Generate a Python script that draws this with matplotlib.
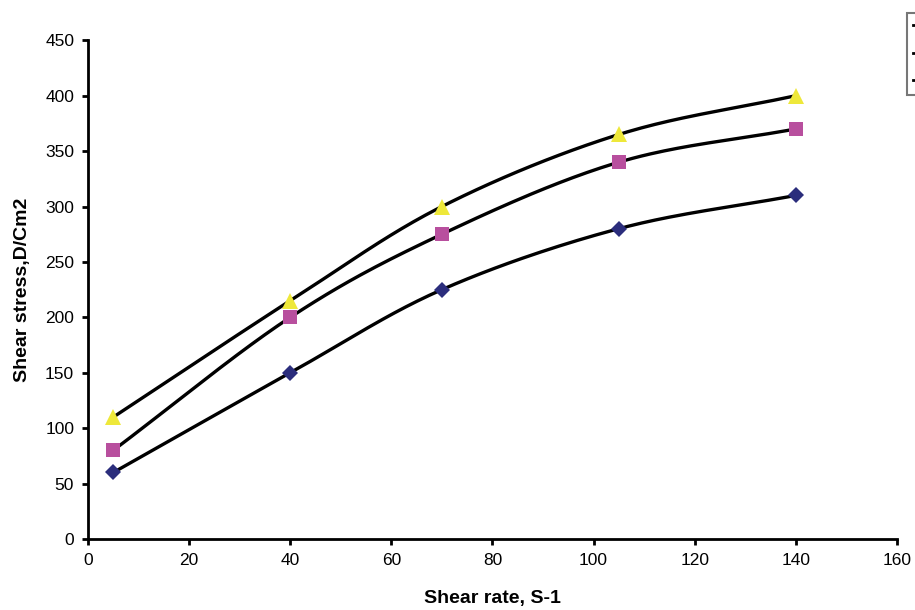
import numpy as np
import matplotlib.pyplot as plt
from matplotlib.lines import Line2D

plt.rcParams['font.family'] = ['Liberation Sans', 'DejaVu Sans']

shear_rate = [5, 40, 70, 105, 140]
stress_a = [60, 150, 225, 280, 310]
stress_b = [80, 200, 275, 340, 370]
stress_c = [110, 215, 300, 365, 400]
series_labels = ["Series 1", "Series 2", "Series 3"]


def smooth(x, y, n=40):
    """Catmull-Rom curve through the points, like Excel's smoothed line."""
    p = np.column_stack([x, y]).astype(float)
    p = np.vstack([2 * p[0] - p[1], p, 2 * p[-1] - p[-2]])
    out = []
    t = np.linspace(0, 1, n)[:, None]
    for i in range(1, len(p) - 2):
        p0, p1, p2, p3 = p[i - 1], p[i], p[i + 1], p[i + 2]
        seg = 0.5 * ((2 * p1) + (-p0 + p2) * t
                     + (2 * p0 - 5 * p1 + 4 * p2 - p3) * t ** 2
                     + (-p0 + 3 * p1 - 3 * p2 + p3) * t ** 3)
        out.append(seg)
    out = np.vstack(out)
    return out[:, 0], out[:, 1]


fig = plt.figure(figsize=(9.15, 6.1), dpi=100)
ax = fig.add_axes([0.0962, 0.1164, 0.884, 0.8176])

styles = [
    (stress_a, "D", "#2B2D7C", 8.5),
    (stress_b, "s", "#B84F9E", 10),
    (stress_c, "^", "#EEE83A", 12),
]
for vals, mk, col, ms in styles:
    sx, sy = smooth(shear_rate, vals)
    ax.plot(sx, sy, color="black", lw=2.4, zorder=2, solid_capstyle="round")
    ax.plot(shear_rate, vals, linestyle="none", marker=mk, color=col,
            markersize=ms, markeredgewidth=0, zorder=3)

ax.set_xlim(0, 160)
ax.set_ylim(0, 450)
ax.set_xticks(range(0, 161, 20))
ax.set_yticks(range(0, 451, 50))
for side in ["top", "right"]:
    ax.spines[side].set_visible(False)
for side in ["left", "bottom"]:
    ax.spines[side].set_linewidth(2)
ax.tick_params(direction="out", width=2, length=4, labelsize=12.5, pad=6)
ax.set_xlabel("Shear rate, S-1", fontsize=14, fontweight="bold", labelpad=16)
ax.set_ylabel("Shear stress,D/Cm2", fontsize=14, fontweight="bold", labelpad=10)

handles = [Line2D([], [], color="black", lw=2, marker="o", markersize=3)
           for _ in series_labels]
leg = fig.legend(handles, series_labels, loc="upper left",
                 bbox_to_anchor=(907 / 915, 1 - 13 / 610), frameon=True,
                 fancybox=False, edgecolor="#555555", fontsize=11,
                 handlelength=1.5, labelspacing=0.9, borderaxespad=0)
leg.get_frame().set_linewidth(1.5)

fig.savefig("out.png", dpi=100)
